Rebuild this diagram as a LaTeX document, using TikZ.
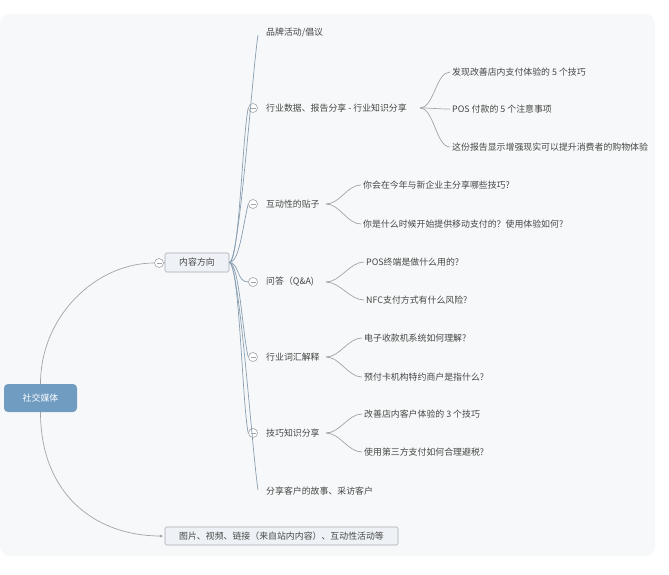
\documentclass[tikz,border=0pt]{standalone}
\usepackage{fontspec}
\setmainfont{Noto Sans CJK SC}
\definecolor{rootblue}{RGB}{112,156,194}
\definecolor{trunk}{RGB}{136,158,178}
\definecolor{arcgray}{RGB}{160,164,170}
\definecolor{boxfill}{RGB}{238,242,246}
\definecolor{boxline}{RGB}{165,172,180}
\definecolor{txtc}{RGB}{70,70,70}
\definecolor{bgc}{RGB}{247,248,249}
\begin{document}
\begin{tikzpicture}[x=1pt,y=-1pt,
  txt/.style={anchor=west,inner sep=2pt,text=txtc,font=\fontsize{8.9}{10}\selectfont},
  coll/.style={circle,draw=arcgray,fill=white,line width=0.6pt,minimum size=9pt,inner sep=0pt,
    path picture={\draw[arcgray,line width=0.6pt] ([xshift=-2.5pt]path picture bounding box.center) -- ([xshift=2.5pt]path picture bounding box.center);}},
  lnk/.style={draw=trunk,line width=0.7pt},
  arc/.style={draw=arcgray,line width=0.7pt},
  subbox/.style={draw=boxline,fill=boxfill,rounded corners=1.5pt,inner sep=0pt,text=txtc,font=\fontsize{8.9}{10}\selectfont,line width=0.6pt}
]
\useasboundingbox (0,0) rectangle (669,574);
\fill[white] (0,0) rectangle (669,574);
\fill[bgc,rounded corners=10pt] (0,14) rectangle (655,556);

% root
\node[fill=rootblue,rounded corners=4pt,minimum width=73pt,minimum height=28pt,inner sep=0pt,text=white,font=\fontsize{8.9}{10}\selectfont] (root) at (40.5,398) {社交媒体};

% level 1
\node[subbox,minimum width=64pt,minimum height=19pt] (m) at (197,262.5) {内容方向};
\node[coll] (cm) at (159,263) {};
\node[subbox,minimum width=233pt,minimum height=18pt] (bt) at (281.5,536) {图片、视频、链接（来自站内内容）、互动性活动等};
\fill[arcgray] (161,536) circle (1.5pt) coordinate (bd);

\draw[arc] (root.north) .. controls +(0,-68) and +(-58,0) .. (cm.west);
\draw[arc] (root.south) .. controls +(0,80) and +(-68,0) .. (bd);
\draw[arc] (cm.east) -- (m.west);

% level 2
\node[txt] (t1) at (264,33) {品牌活动/倡议};
\coordinate (e1) at (258,35);
\node[coll] (c2) at (253,108) {};
\node[txt] (t2) at (264,108) {行业数据、报告分享 - 行业知识分享};
\node[coll] (c3) at (253,204) {};
\node[txt] (t3) at (264,204) {互动性的贴子};
\node[coll] (c4) at (253,282) {};
\node[txt] (t4) at (264,282) {问答（Q\&A)};
\node[coll] (c5) at (253,357) {};
\node[txt] (t5) at (264,357) {行业词汇解释};
\node[coll] (c6) at (253,433) {};
\node[txt] (t6) at (264,433) {技巧知识分享};
\node[txt] (t7) at (264,491) {分享客户的故事、采访客户};
\coordinate (e7) at (258,490);

\draw[lnk] (m.east) .. controls +(10,0) and +(-6,40) .. (e1);
\draw[lnk] (m.east) .. controls +(10,0) and +(-6,30) .. (c2.west);
\draw[lnk] (m.east) .. controls +(10,0) and +(-6,25) .. (c3.west);
\draw[lnk] (m.east) .. controls +(10,0) and +(-12,0) .. (c4.west);
\draw[lnk] (m.east) .. controls +(10,0) and +(-6,-25) .. (c5.west);
\draw[lnk] (m.east) .. controls +(10,0) and +(-6,-30) .. (c6.west);
\draw[lnk] (m.east) .. controls +(10,0) and +(-6,-40) .. (e7);

% level 3
\node[txt] (k1) at (450,72) {发现改善店内支付体验的 5 个技巧};
\node[txt] (k2) at (450,109) {POS 付款的 5 个注意事项};
\node[txt] (k3) at (450,147) {这份报告显示增强现实可以提升消费者的购物体验};
\node[txt] (k4) at (361,185) {你会在今年与新企业主分享哪些技巧?};
\node[txt] (k5) at (361,224) {你是什么时候开始提供移动支付的？使用体验如何?};
\node[txt] (k6) at (364,262) {POS终端是做什么用的?};
\node[txt] (k7) at (364,300) {NFC支付方式有什么风险?};
\node[txt] (k8) at (362,338) {电子收款机系统如何理解?};
\node[txt] (k9) at (362,377) {预付卡机构特约商户是指什么?};
\node[txt] (k10) at (362,414) {改善店内客户体验的 3 个技巧};
\node[txt] (k11) at (362,452) {使用第三方支付如何合理避税?};

\coordinate (s2) at (420,108);
\coordinate (s3) at (326,204);
\coordinate (s4) at (326,282);
\coordinate (s5) at (326,357);
\coordinate (s6) at (326,433);

\foreach \s/\k in {s2/k1,s2/k2,s2/k3,s3/k4,s3/k5,s4/k6,s4/k7,s5/k8,s5/k9,s6/k10,s6/k11}{
  \draw[arc] (\s) .. controls +(14,0) and +(-14,0) .. (\k.west);
}
\end{tikzpicture}
\end{document}
